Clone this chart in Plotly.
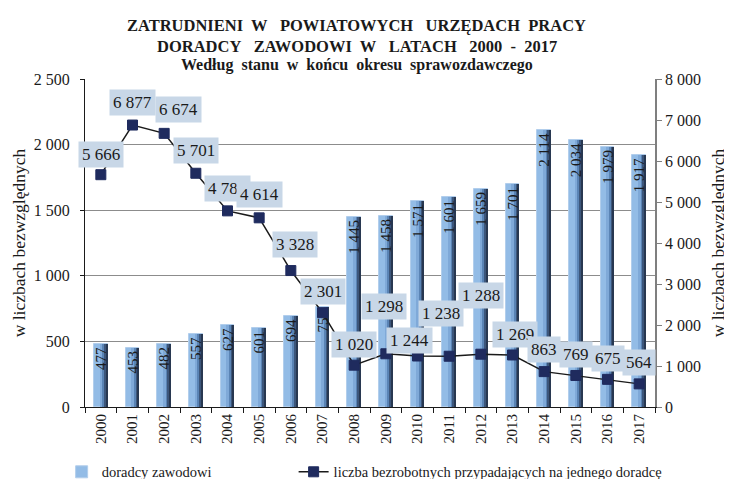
import plotly.graph_objects as go

years = [str(y) for y in range(2000, 2018)]
doradcy = [477, 453, 482, 557, 627, 601, 694, 759, 1445, 1458, 1571, 1601, 1659, 1701, 2114, 2034, 1979, 1917]
bezrobotni_na_doradce = [5666, 6877, 6674, 5701, 4784, 4614, 3328, 2301, 1020, 1298, 1244, 1238, 1288, 1269, 863, 769, 675, 564]
left_ticks = [0, 500, 1000, 1500, 2000, 2500]
right_ticks = [0, 1000, 2000, 3000, 4000, 5000, 6000, 7000, 8000]

# label placement offsets (px) for line labels: upward and sideways shifts
label_up = [20, 23, 24, 23, 22, 23, 26, 21, 21, 47, 16, 43, 59, 20, 22, 21, 21, 21]
label_dx = [0, 0, 14, 0, 0, 0, 4, 0, 0, -2, -8, -8, 0, 2, 0, 0, 0, 0]

FONT = "Liberation Serif, Times New Roman, serif"
INK = "#1a1a1a"

def fmt(v):
    return f"{v:,}".replace(",", " ")

fig = go.Figure()

BW = 0.44
fig.add_trace(go.Bar(
    x=years, y=doradcy, name="doradcy zawodowi", legend="legend",
    width=BW, offset=-BW / 2,
    marker=dict(color="#93BCE6", line=dict(color="#B2CEEC", width=1)),
    hoverinfo="skip",
))
for off, w, col in [(-0.04, 0.09, "#7FA9D8"), (0.05, 0.07, "#5A84B5"), (0.12, 0.05, "#3C567B"), (0.165, 0.035, "#283851")]:
    fig.add_trace(go.Bar(
        x=years, y=doradcy, width=w, offset=off, showlegend=False,
        marker=dict(color=col, line=dict(width=0)), hoverinfo="skip",
    ))
fig.add_trace(go.Bar(
    x=years, y=doradcy, width=BW, offset=-BW / 2, showlegend=False,
    marker=dict(color="rgba(0,0,0,0)", line=dict(width=0)),
    text=[fmt(v) for v in doradcy], textposition="inside", insidetextanchor="end",
    textangle=-90, constraintext="none",
    textfont=dict(family=FONT, size=15, color=INK), hoverinfo="skip",
))

fig.add_trace(go.Scatter(
    x=years, y=bezrobotni_na_doradce, yaxis="y2", mode="lines+markers", legend="legend2",
    name="liczba bezrobotnych przypadających na jednego doradcę",
    line=dict(color=INK, width=1.5),
    marker=dict(symbol="square", size=10, color="#1F2B5E", line=dict(color="#1F2B5E", width=1)),
    hoverinfo="skip",
))

annotations = []
for i, v in enumerate(bezrobotni_na_doradce):
    annotations.append(dict(
        x=i, y=v, xref="x", yref="y2", text=fmt(v), showarrow=False,
        xshift=label_dx[i], yshift=label_up[i],
        bgcolor="#C8D7E7", borderpad=3,
        font=dict(family=FONT, size=17, color=INK),
    ))

titles = [
    ("ZATRUDNIENI\u00a0 W\u00a0 \u00a0POWIATOWYCH\u00a0 \u00a0URZĘDACH\u00a0 PRACY", 1.164, 16.5),
    ("DORADCY\u00a0 \u00a0ZAWODOWI\u00a0 W\u00a0 \u00a0LATACH\u00a0 \u00a02000\u00a0 -\u00a0 2017", 1.1006, 16.5),
    ("Według\u00a0 stanu\u00a0 w\u00a0 końcu\u00a0 okresu\u00a0 sprawozdawczego", 1.0436, 16),
]
for t, yy, sz in titles:
    annotations.append(dict(
        x=0.477, y=yy, xref="paper", yref="paper", text=f"<b>{t}</b>", showarrow=False,
        xanchor="center", yanchor="middle", font=dict(family=FONT, size=sz, color=INK),
    ))

# the page body adds an 8px offset; margins compensate so the plot area sits at x 85-655, y 79-407 on screen
fig.update_layout(
    width=732, height=479,
    margin=dict(l=77, r=85, t=71, b=80, pad=0, autoexpand=False),
    paper_bgcolor="white", plot_bgcolor="white",
    barmode="overlay", bargap=0,
    separators=", ",
    font=dict(family=FONT, size=16, color=INK),
    annotations=annotations,
    showlegend=True,
    legend=dict(
        orientation="h", x=-0.041, y=-0.149, xanchor="left", yanchor="top",
        font=dict(family=FONT, size=14.5, color=INK), bgcolor="rgba(0,0,0,0)",
    ),
    legend2=dict(
        orientation="h", x=0.366, y=-0.149, xanchor="left", yanchor="top",
        font=dict(family=FONT, size=14.5, color=INK), bgcolor="rgba(0,0,0,0)",
    ),
    xaxis=dict(
        type="category", range=[-0.5, 17.5], automargin=False,
        tickangle=-90, tickson="boundaries", ticks="outside", ticklen=5, tickcolor=INK,
        showline=True, linecolor=INK, linewidth=1, showgrid=False,
        tickfont=dict(family=FONT, size=15, color=INK),
    ),
    yaxis=dict(
        range=[0, 2500], tickvals=left_ticks, separatethousands=True, automargin=False,
        ticks="outside", ticklen=4, tickcolor=INK, ticklabelstandoff=7,
        showline=True, linecolor=INK, linewidth=1,
        showgrid=True, gridcolor="#8c8c8c", gridwidth=1, zeroline=False,
        tickfont=dict(family=FONT, size=16, color=INK),
        title=dict(text="w liczbach bezwzględnych", font=dict(family=FONT, size=17.5, color=INK), standoff=3),
    ),
    yaxis2=dict(
        range=[0, 8000], tickvals=right_ticks, separatethousands=True, overlaying="y", side="right",
        automargin=False,
        ticks="outside", ticklen=5, tickcolor="#7f7f7f", ticklabelstandoff=0,
        showline=True, linecolor="#7f7f7f", linewidth=1.5, showgrid=False, zeroline=False,
        tickfont=dict(family=FONT, size=16, color=INK),
        title=dict(text="w liczbach bezwzględnych", font=dict(family=FONT, size=17.5, color=INK), standoff=12),
    ),
)

fig.write_html("out.html")
